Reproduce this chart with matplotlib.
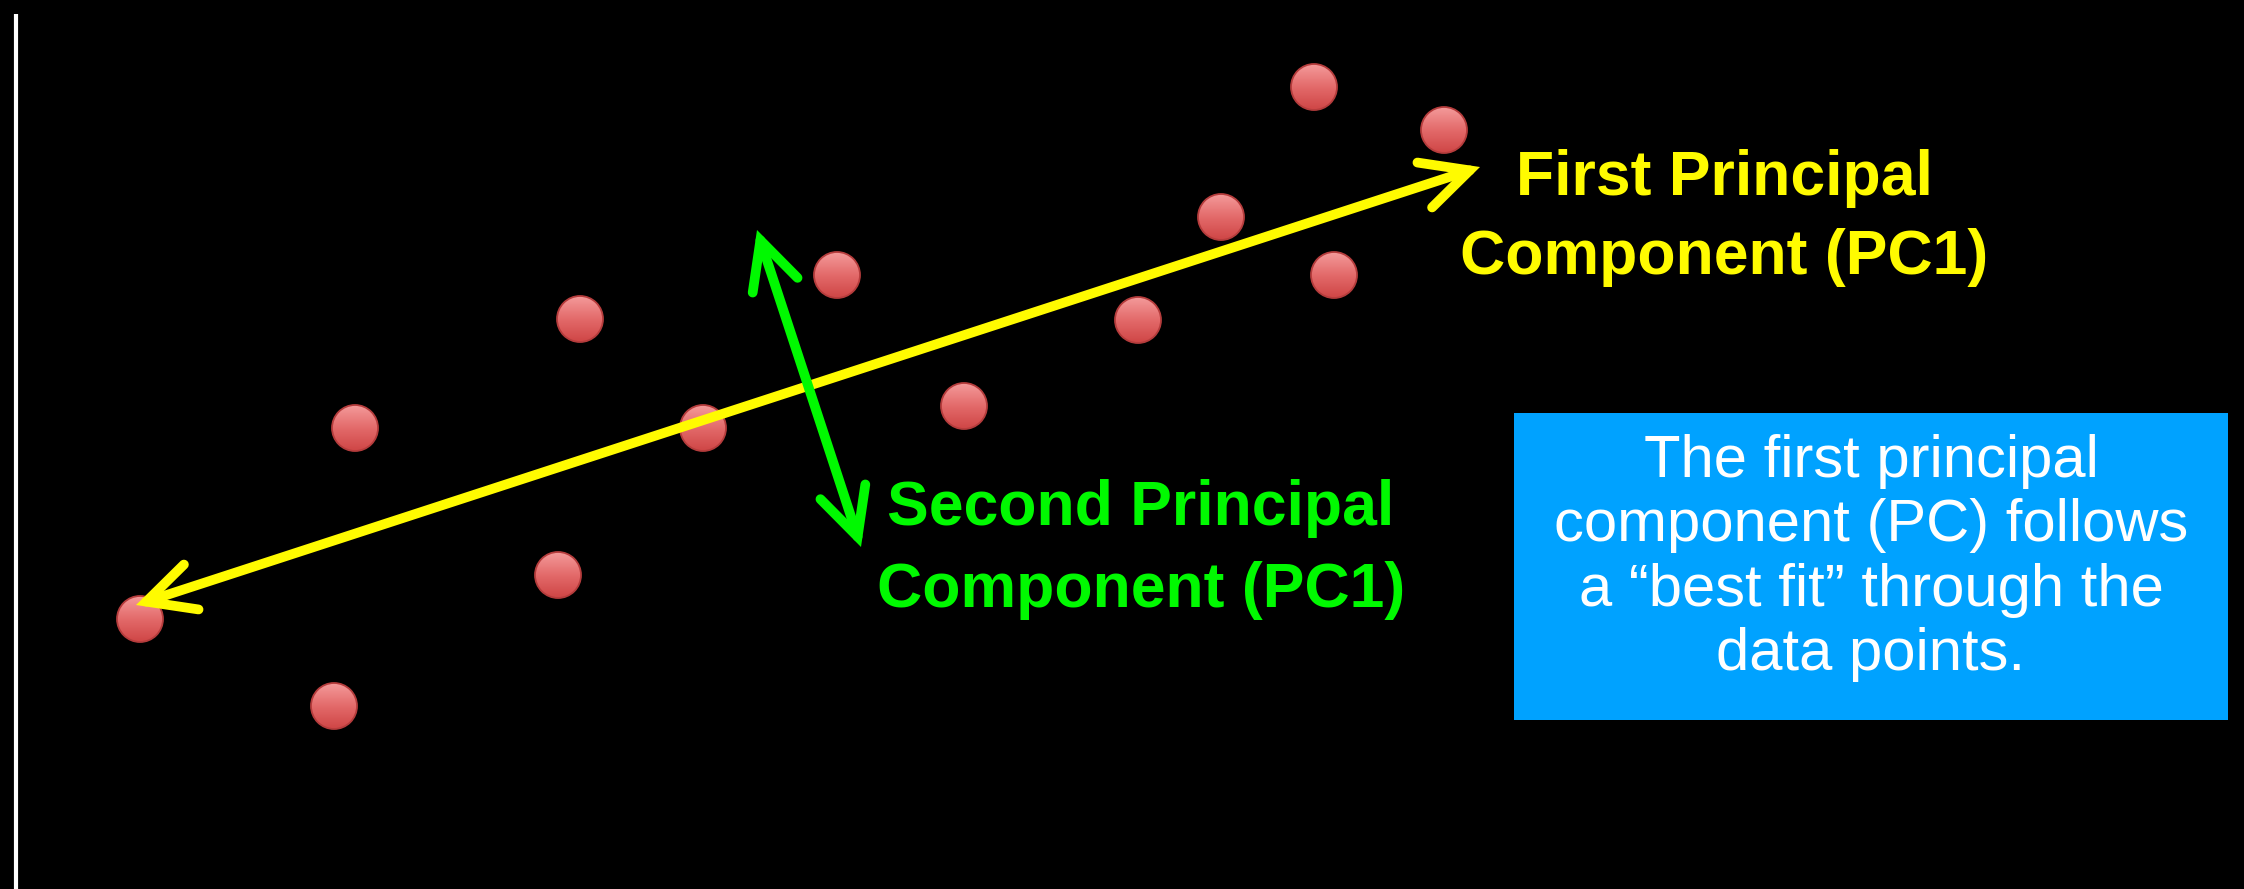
import matplotlib
matplotlib.use("Agg")
import matplotlib.pyplot as plt
import numpy as np
from matplotlib.patches import FancyArrowPatch, Rectangle, Circle
from matplotlib.colors import LinearSegmentedColormap

plt.rcParams["font.family"] = ["Liberation Sans", "DejaVu Sans"]

# data points (pixel-like units, y downward)
pts_x = [1314, 1444, 1221, 1334, 837, 580, 1138, 964, 355, 703, 558, 140, 334]
pts_y = [87, 130, 217, 275, 275, 319, 320, 406, 428, 428, 575, 619, 706]

# principal component arrows (start, end)
pc1_x = [136, 1480]
pc1_y = [605, 167]
pc2_x = [757, 861]
pc2_y = [230, 547]

pc1_label = "First Principal\nComponent (PC1)"
pc2_label = "Second Principal\nComponent (PC1)"
note_text = "The first principal\ncomponent (PC) follows\na \u201cbest fit\u201d through the\ndata points."

W, H = 2244, 889
fig = plt.figure(figsize=(W / 100, H / 100), dpi=100, facecolor="black")
ax = fig.add_axes([0, 0, 1, 1])
ax.set_facecolor("black")
ax.set_xlim(0, W)
ax.set_ylim(H, 0)
ax.axis("off")

# left axis line
ax.plot([16, 16], [14, H], color="white", lw=3, solid_capstyle="butt")

# points: shaded balls
ball_cmap = LinearSegmentedColormap.from_list("ball", ["#f49a9a", "#e36a6a", "#cf4646"])
grad = np.linspace(0, 1, 64).reshape(-1, 1)
r = 23
for x, y in zip(pts_x, pts_y):
    c = Circle((x, y), r, facecolor="none", edgecolor="#b53c3c", lw=1.3, zorder=4)
    ax.add_patch(c)
    im = ax.imshow(grad, cmap=ball_cmap, extent=[x - r, x + r, y + r, y - r],
                   aspect="auto", zorder=3, interpolation="bilinear")
    im.set_clip_path(c)
ax.set_xlim(0, W)
ax.set_ylim(H, 0)

# arrows
yellow = "#fffb00"
green = "#00f900"
for xs, ys, col in [(pc1_x, pc1_y, yellow), (pc2_x, pc2_y, green)]:
    a = FancyArrowPatch((xs[0], ys[0]), (xs[1], ys[1]),
                        arrowstyle="<->,head_length=34,head_width=17",
                        mutation_scale=1, color=col, lw=7, shrinkA=0, shrinkB=0,
                        capstyle="round", joinstyle="miter", zorder=5)
    ax.add_patch(a)

# labels
ax.text(1724, 218, pc1_label, color=yellow, fontsize=45, fontweight="bold",
        ha="center", va="center", linespacing=1.45)
ax.text(1141, 549, pc2_label, color=green, fontsize=45, fontweight="bold",
        ha="center", va="center", linespacing=1.5)

# note box
ax.add_patch(Rectangle((1514, 413), 714, 307, facecolor="#00a2ff", edgecolor="none"))
ax.text(1871, 558, note_text, color="white", fontsize=43,
        ha="center", va="center", linespacing=1.22)

fig.savefig("out.png", dpi=100, facecolor="black")
